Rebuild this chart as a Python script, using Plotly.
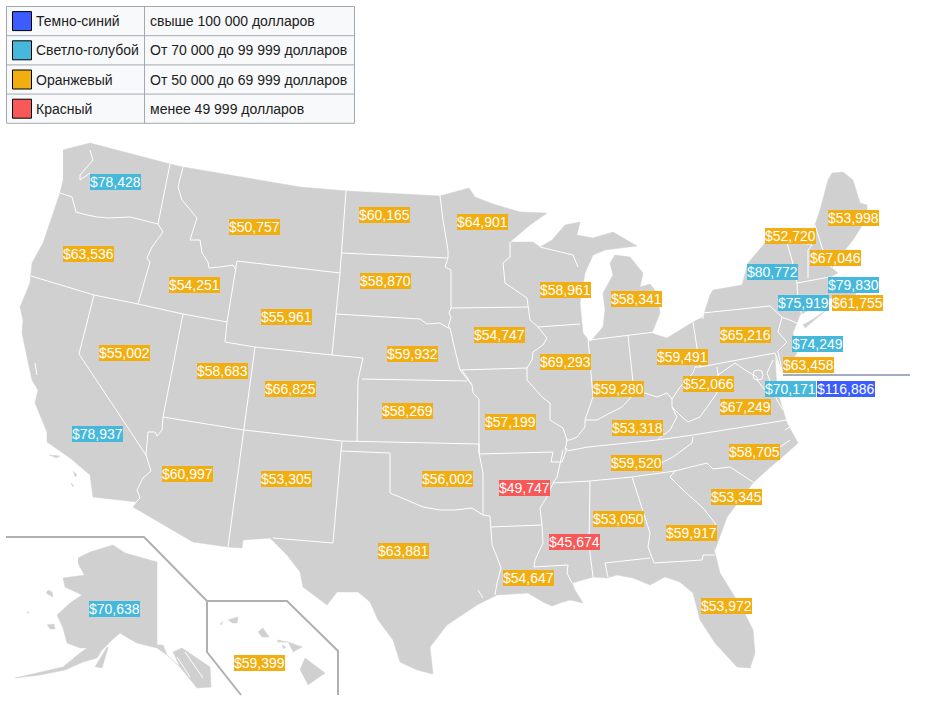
import plotly.graph_objects as go

# ---- data ----
state_codes = ["WA","OR","ID","MT","WY","NV","UT","CO","CA","AZ","NM","ND","SD","NE","KS","OK","TX","MN","IA","MO","AR","LA","WI","IL","MI","IN","OH","KY","TN","MS","AL","GA","FL","SC","NC","VA","WV","PA","NY","VT","ME","NH","MA","RI","CT","NJ","DE","MD","DC","AK","HI"]
incomes = [78428,63536,54251,50757,55961,55002,58683,66825,78937,60997,53305,60165,58870,59932,58269,56002,63881,64901,54747,57199,49747,54647,58961,69293,58341,59280,59491,53318,59520,45674,53050,59917,53972,53345,58705,67249,52066,65216,80772,52720,53998,67046,79830,61755,75919,74249,63458,70171,116886,70638,59399]
label_x = [115,88,194,254,286,124,222,290,97,187,286,384,385,412,407,447,403,482,499,510,524,528,565,565,636,618,682,637,636,574,618,691,726,736,754,745,708,745,772,790,853,835,853,857,803,817,808,790,846,114,259]
label_y = [182,254,285,227,317,353,371,389,434,474,479,215,281,354,411,479,551,222,335,422,488,578,290,362,299,389,357,428,463,542,519,533,606,497,452,407,384,335,272,236,218,258,285,303,303,344,365,389,389,609,663]

legend_names = ["Темно-синий","Светло-голубой","Оранжевый","Красный"]
legend_ranges = ["свыше 100 000 долларов","От 70 000 до 99 999 долларов","От 50 000 до 69 999 долларов","менее 49 999 долларов"]
tier_colors = ["#3b5cff","#45b8dc","#f2ae10","#f85858"]

MAP_GREY = "#d0d0d0"

# main outline of the 48 states (page pixels)
lower48 = [(63,150),(90,143),(170,164),(183,167),(300,187),(347,191),(440,196),(469,188),(475,197),(493,204),(520,212),(547,213),
(530,225),(510,242),(533,242),(540,247),(552,240),(565,225),(580,222),(577,235),(593,238),(613,232),(637,246),(618,248),(605,250),(593,255),(585,273),(580,303),(583,333),(590,342),(603,327),(605,310),(603,293),(613,275),(610,263),(615,255),(630,257),(643,273),(640,287),(650,284),(657,293),(660,313),(652,333),(657,335),(667,338),(693,322),(703,317),(710,295),(713,290),(742,285),(748,263),(765,243),(787,243),(812,245),(815,225),(820,210),(828,180),(832,173),(843,172),(853,180),(860,203),(867,205),(867,218),(853,240),(837,260),(832,268),(838,273),(830,277),(838,285),(860,287),(855,295),(838,295),(827,300),(800,315),(797,323),(793,333),(798,350),(787,372),(782,372),(775,355),(777,390),(787,423),(798,443),(787,453),(767,470),(753,483),(727,517),(715,550),(713,545),(720,573),(743,610),(753,630),(755,653),(750,668),(737,667),(715,643),(700,620),(698,613),(693,593),(680,582),(665,577),(650,585),(633,578),(617,575),(607,578),(593,577),(572,583),(575,590),(583,603),(570,600),(563,602),(552,606),(543,602),(528,593),(503,595),(497,595),(477,605),(447,625),(430,647),(433,674),(417,670),(400,662),(393,640),(378,620),(370,602),(358,592),(337,592),(327,605),(303,587),(300,572),(287,555),(270,538),(243,540),(242,548),(228,547),(193,542),(133,507),(137,502),(93,497),(90,475),(70,458),(47,442),(47,432),(35,403),(38,390),(32,380),(27,357),(22,333),(23,320),(20,307),(30,283),(32,263),(43,243),(60,193),(63,180)]

# state boundaries
borders = [
[(60,193),(72,197),(76,212),(83,214),(97,217),(108,218),(130,217),(158,224)],
[(170,164),(158,224),(163,232),(152,247),(147,258),(150,262),(138,304)],
[(31,276),(94,295),(138,304),(183,314),(227,322)],
[(94,295),(79,354),(146,455),(151,471),(143,478),(137,490),(140,498),(136,502)],
[(183,314),(163,417),(162,430),(157,436),(155,432),(148,432),(146,455)],
[(183,167),(178,187),(182,200),(197,218),(190,240),(200,240),(202,253),(208,262),(209,268),(220,267),(233,265),(236,270)],
[(237,261),(227,322),(225,342),(255,347),(332,355),(363,358),(358,380),(357,441)],
[(237,261),(340,273)],
[(346,191),(342,253),(340,273),(336,314),(332,355)],
[(255,347),(244,430),(228,547)],
[(163,417),(244,430),(342,441),(479,444)],
[(342,441),(341,451),(390,453),(390,493),(402,498),(423,507),(440,510),(455,510),(472,508),(483,515),(490,516),(491,527),(492,545),(497,557),(501,568),(497,583),(495,595)],
[(341,451),(333,543),(273,538)],
[(479,444),(479,453),(483,473),(483,515)],
[(491,527),(542,525)],
[(462,370),(472,385),(473,393),(479,399),(479,453)],
[(362,379),(467,381)],
[(336,314),(420,319),(427,324),(440,323),(448,328),(450,328),(455,350),(460,370),(472,385)],
[(342,253),(448,258)],
[(440,196),(443,220),(448,250),(448,258),(445,267),(451,270),(451,308),(449,313),(451,317),(448,328)],
[(451,308),(528,307)],
[(510,242),(510,257),(503,263),(505,283),(527,298),(528,307),(530,320),(538,327),(547,338),(543,345),(533,352),(532,360),(527,368),(527,380),(542,397),(550,403),(550,420),(563,428),(567,440),(565,450)],
[(460,370),(527,368)],
[(479,454),(553,452),(551,462),(562,462),(567,448)],
[(563,450),(557,477),(553,483),(548,495),(540,508),(542,525),(543,543),(535,560),(534,567),(568,565),(567,573),(572,583)],
[(567,451),(588,447),(657,440),(693,435),(787,420)],
[(553,483),(590,481),(632,477),(675,471),(707,463),(713,469),(730,467),(753,482)],
[(693,437),(692,443),(673,457),(663,462),(653,472)],
[(590,481),(589,545),(593,577)],
[(632,477),(645,517),(650,533),(648,547),(654,563),(702,560),(703,555),(715,555)],
[(608,577),(605,563),(650,558)],
[(670,477),(683,490),(703,508),(715,523),(716,535)],
[(670,477),(675,471)],
[(538,327),(580,324)],
[(540,247),(573,255),(578,267)],
[(588,338),(593,397),(585,420),(585,427),(577,437),(570,440),(567,440)],
[(590,340),(628,335),(655,332)],
[(628,335),(633,382),(633,395)],
[(585,420),(597,420),(610,413),(622,407),(633,395),(645,393),(657,397),(667,393),(672,399),(680,387),(693,373),(695,367),(700,367)],
[(693,322),(698,352),(700,367),(775,353)],
[(672,399),(672,407),(683,418),(688,422),(700,417),(717,393),(718,375),(735,363),(745,370),(757,377),(757,380),(765,390)],
[(717,367),(718,375)],
[(672,407),(677,417),(670,430),(657,440)],
[(703,319),(703,313),(770,306),(782,317),(778,332),(787,342),(777,352)],
[(782,317),(797,323)],
[(778,352),(783,375)],
[(775,353),(783,375)],
[(787,243),(792,260),(797,283),(798,300),(802,317)],
[(812,245),(808,250),(808,278)],
[(797,283),(830,277)],
[(815,225),(825,257),(832,268)],
[(798,300),(827,296)],
[(773,360),(767,373),(777,400),(783,410)],
[(90,150),(93,160),(80,175),(80,180),(90,173)],
[(35,363),(37,375)],
[(785,430),(793,425)],
[(790,440),(780,447)],
[(177,657),(190,677)],
[(185,652),(203,678)],
[(483,598),(478,590)],
]
dc_ring = [(758,370),(762,371),(763,375),(762,379),(758,380),(754,379),(753,375),(754,371),(758,370)]

alaska = [(78,558),(90,552),(113,545),(125,553),(157,562),(157,645),(163,645),(167,655),(180,667),(173,652),(182,648),(210,667),(211,687),(197,688),(180,667),(167,655),(157,648),(137,643),(128,638),(120,633),(112,640),(102,650),(97,658),(83,662),(65,670),(40,675),(15,678),(43,672),(63,667),(80,653),(87,648),(80,648),(67,643),(63,628),(57,615),(70,603),(82,595),(65,587),(63,578),(85,575),(88,582),(78,563)]
islands = [
[(95,667),(107,647),(108,648),(102,668)],
[(48,590),(52,592),(53,597),(46,593)],
[(47,625),(54,624),(55,629),(50,629)],
[(27,611),(29,613),(28,614)],
[(300,670),(305,658),(325,673),(308,685)],
[(288,642),(302,647),(293,652)],
[(258,632),(263,628),(269,637),(262,637)],
[(228,620),(238,617),(237,623),(232,623)],
[(277,640),(288,642),(278,642)],
[(220,624),(223,621),(221,625)],
[(282,645),(286,647),(283,649)],
[(49,455),(60,456),(56,458)],
[(73,471),(77,475),(75,477)],
[(71,483),(74,486),(72,486)],
[(803,325),(815,318),(830,307),(822,314),(805,328)],
]
inset_lines = [
[(6,537),(144,537),(207,601),(287,601),(338,651),(338,695)],
[(207,601),(207,652),(241,695)],
]
dc_leader = [(783,375),(910,375)]

def xs(p): return [q[0] for q in p]
def ys(p): return [q[1] for q in p]

fig = go.Figure()
def poly(p):
    fig.add_trace(go.Scatter(x=xs(p), y=ys(p), mode="lines", fill="toself", fillcolor=MAP_GREY,
                             line=dict(color=MAP_GREY, width=0.5), hoverinfo="skip", showlegend=False))
poly(lower48); poly(alaska)
for p in islands: poly(p)
for p in borders + [dc_ring]:
    fig.add_trace(go.Scatter(x=xs(p), y=ys(p), mode="lines", line=dict(color="white", width=1),
                             hoverinfo="skip", showlegend=False))
for p in inset_lines:
    fig.add_trace(go.Scatter(x=xs(p), y=ys(p), mode="lines", line=dict(color="#b0b0b0", width=2),
                             hoverinfo="skip", showlegend=False))
fig.add_trace(go.Scatter(x=xs(dc_leader), y=ys(dc_leader), mode="lines", line=dict(color="#47598a", width=1),
                         hoverinfo="skip", showlegend=False))

def tier(v):
    return 0 if v >= 100000 else 1 if v >= 70000 else 2 if v >= 50000 else 3

anns = []
for code, v, x, y in zip(state_codes, incomes, label_x, label_y):
    anns.append(dict(x=x, y=y, text=f"${v:,}", showarrow=False, xref="x", yref="y",
                     font=dict(family="Liberation Sans, Arial", size=14, color="white"),
                     bgcolor=tier_colors[tier(v)], borderpad=0, borderwidth=0, name=code))

# legend table
T_L, T_M, T_R, T_T = 6.5, 144.5, 354.5, 6.5
ROW_H = 29.2
shapes = [dict(type="rect", xref="x", yref="y", x0=T_L, x1=T_R, y0=T_T, y1=T_T+4*ROW_H,
               fillcolor="#f8f9fa", line=dict(color="#a2a9b1", width=1), layer="below")]
shapes.append(dict(type="line", xref="x", yref="y", x0=T_M, x1=T_M, y0=T_T, y1=T_T+4*ROW_H,
                   line=dict(color="#a2a9b1", width=1), layer="below"))
for i, (n, r, c) in enumerate(zip(legend_names, legend_ranges, tier_colors)):
    if i:
        shapes.append(dict(type="line", xref="x", yref="y", x0=T_L, x1=T_R, y0=T_T+i*ROW_H, y1=T_T+i*ROW_H,
                           line=dict(color="#a2a9b1", width=1), layer="below"))
    cy = T_T + (i+0.5)*ROW_H
    shapes.append(dict(type="rect", xref="x", yref="y", x0=12.5, x1=31.5, y0=cy-9.5, y1=cy+9.5,
                       fillcolor=c, line=dict(color="black", width=1)))
    for tx, t in ((33.5, n), (148, r)):
        anns.append(dict(x=tx, y=cy, text=t, showarrow=False, xanchor="left", xref="x", yref="y",
                         font=dict(family="Liberation Sans, Arial", size=14, color="#202122")))

fig.update_layout(width=928, height=701, margin=dict(l=0, r=0, t=0, b=0),
                  paper_bgcolor="white", plot_bgcolor="white", showlegend=False,
                  xaxis=dict(range=[0,928], visible=False, fixedrange=True),
                  yaxis=dict(range=[701,0], visible=False, fixedrange=True),
                  annotations=anns, shapes=shapes)
fig.write_html("out.html", config={"displayModeBar": False},
               post_script="document.body.style.margin='0';document.documentElement.style.overflow='hidden';")
